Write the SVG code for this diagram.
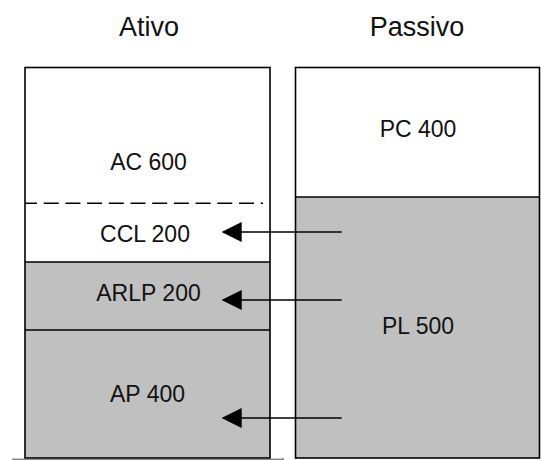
<svg xmlns="http://www.w3.org/2000/svg" width="541" height="460" viewBox="0 0 541 460">
  <style>
    .title { font-family: "Liberation Sans", Arial, sans-serif; font-size: 27px; fill: #111; text-anchor: middle; }
    .label { font-family: "Liberation Sans", Arial, sans-serif; font-size: 23px; fill: #111; text-anchor: middle; }
    .box { fill: none; stroke: #000; stroke-width: 1.6; }
    .white { fill: #fff; }
    .gray { fill: #c0c0c0; }
    .rule { stroke: #000; stroke-width: 1.6; fill: none; }
    .dash { stroke: #000; stroke-width: 1.6; stroke-dasharray: 15 6.7; stroke-dashoffset: 3; fill: none; }
    .arrow { stroke: #000; stroke-width: 1.5; fill: none; marker-end: url(#head); }
  </style>
  <defs>
    <marker id="head" markerUnits="userSpaceOnUse" markerWidth="20" markerHeight="20" refX="11" refY="10" orient="auto">
      <path d="M0,0 L20,10 L0,20 Z" fill="#000"/>
    </marker>
  </defs>

  <rect width="541" height="460" fill="#fff"/>

  <!-- column headings -->
  <g id="title-ativo"><text class="title" x="149" y="36">Ativo</text></g>
  <g id="title-passivo"><text class="title" x="417" y="36">Passivo</text></g>

  <!-- assets column -->
  <g id="ac">
    <rect class="white" x="25" y="67.5" width="245" height="135.5"/>
    <text class="label" x="148.5" y="170">AC 600</text>
  </g>
  <g id="ccl">
    <rect class="white" x="25" y="203" width="245" height="59"/>
    <line class="dash" x1="25" y1="203.3" x2="263" y2="203.3"/>
    <text class="label" x="145" y="241.5">CCL 200</text>
  </g>
  <g id="arlp">
    <rect class="gray" x="25" y="262" width="245" height="68"/>
    <line class="rule" x1="25" y1="262" x2="270" y2="262"/>
    <text class="label" x="148.5" y="300.5">ARLP 200</text>
  </g>
  <g id="ap">
    <rect class="gray" x="25" y="330" width="245" height="128"/>
    <line class="rule" x1="25" y1="330" x2="270" y2="330"/>
    <text class="label" x="147.5" y="401.5">AP 400</text>
  </g>
  <rect class="box" x="25" y="67.5" width="245" height="390.5"/>

  <!-- liabilities column -->
  <g id="pc">
    <rect class="white" x="295.5" y="67.5" width="244" height="129.5"/>
    <text class="label" x="418" y="137">PC 400</text>
  </g>
  <g id="pl">
    <rect class="gray" x="295.5" y="197" width="244" height="261"/>
    <line class="rule" x1="295.5" y1="197" x2="539.5" y2="197"/>
    <text class="label" x="418" y="334">PL 500</text>
  </g>
  <rect class="box" x="295.5" y="67.5" width="244" height="390.5"/>

  <!-- base line under the columns -->
  <line x1="12" y1="459.2" x2="283" y2="459.2" stroke="#555" stroke-width="1"/>
  <line x1="283" y1="458" x2="283" y2="460" stroke="#555" stroke-width="1"/>

  <!-- funding arrows -->
  <g id="connectors">
    <line class="arrow" x1="341.7" y1="232" x2="230.7" y2="232"/>
    <line class="arrow" x1="341.7" y1="300" x2="230.7" y2="300"/>
    <line class="arrow" x1="341.7" y1="418" x2="230.7" y2="418"/>
  </g>
</svg>
